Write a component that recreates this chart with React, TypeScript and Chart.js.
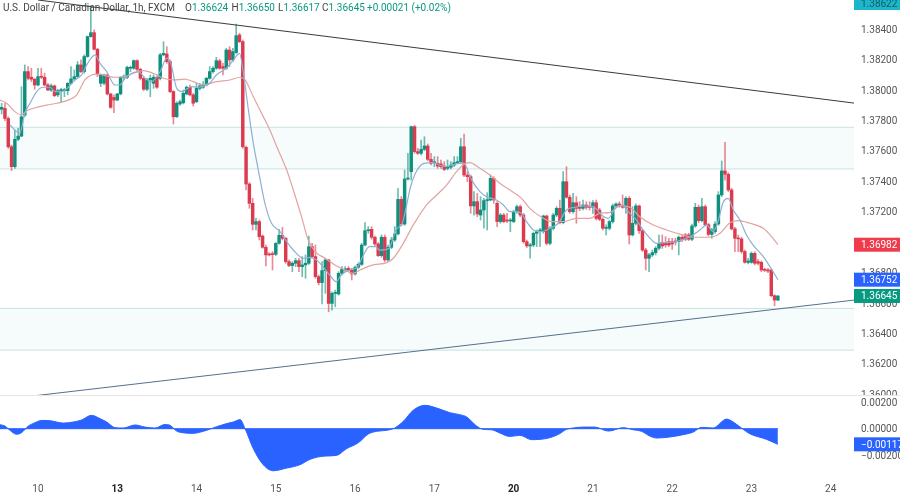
import { useEffect, useRef } from 'react';
import { Chart, registerables } from 'chart.js';

Chart.register(...registerables);

const opens = [
  1.37872,1.37878,1.37812,1.37626,1.37495,1.37675,1.37696,1.37834,1.38120,1.38083,
  1.38070,1.38032,1.38087,1.38083,1.38032,1.37999,1.38026,1.37967,1.37995,1.37995,
  1.37995,1.38043,1.38072,1.38087,1.38164,1.38120,1.38219,1.38350,1.38376,1.38267,
  1.38043,1.38043,1.38098,1.37973,1.37951,1.37933,1.37973,1.38083,1.38083,1.38142,
  1.38142,1.38192,1.38135,1.38076,1.38004,1.38065,1.38043,1.38083,1.38076,1.38230,
  1.38236,1.38186,1.37989,1.37823,1.37907,1.37915,1.37973,1.38017,1.37967,1.37922,
  1.38010,1.38017,1.38032,1.38076,1.38120,1.38142,1.38190,1.38153,1.38142,1.38262,
  1.38197,1.38245,1.38361,1.38317,1.37622,1.37381,1.37254,1.37116,1.37134,1.37039,
  1.36965,1.36921,1.36919,1.36919,1.36991,1.37044,1.37024,1.36871,1.36845,1.36860,
  1.36877,1.36838,1.36849,1.36860,1.36969,1.36904,1.36772,1.36733,1.36812,1.36882,
  1.36596,1.36662,1.36658,1.36794,1.36816,1.36827,1.36816,1.36790,1.36834,1.36853,
  1.36980,1.37074,1.37083,1.37031,1.36987,1.36910,1.37031,1.36882,1.36965,1.37013,
  1.37053,1.37280,1.37118,1.37414,1.37462,1.37758,1.37594,1.37583,1.37609,1.37631,
  1.37543,1.37521,1.37517,1.37513,1.37499,1.37484,1.37491,1.37506,1.37521,1.37528,
  1.37626,1.37440,1.37429,1.37237,1.37265,1.37177,1.37210,1.37272,1.37276,1.37418,
  1.37254,1.37134,1.37177,1.37144,1.37138,1.37134,1.37199,1.37232,1.37177,1.37002,
  1.36974,1.36980,1.37057,1.37068,1.37068,1.37171,1.36991,1.37090,1.37177,1.37221,
  1.37127,1.37396,1.37294,1.37199,1.37258,1.37228,1.37221,1.37243,1.37232,1.37228,
  1.37258,1.37210,1.37149,1.37090,1.37090,1.37134,1.37237,1.37250,1.37237,1.37228,
  1.37287,1.37046,1.37123,1.37237,1.37074,1.36947,1.36893,1.36915,1.36930,1.36959,
  1.36996,1.36991,1.37002,1.37002,1.37002,1.37002,1.37031,1.37046,1.37046,1.37018,
  1.37105,1.37228,1.37140,1.37232,1.37114,1.37050,1.37068,1.37118,1.37309,1.37467,
  1.37445,1.37342,1.37086,1.37024,1.37020,1.36937,1.36866,1.36866,1.36925,1.36871,
  1.36866,1.36816,1.36816,1.36816,1.36647,1.36618,
];
const closes = [
  1.37885,1.37812,1.37626,1.37495,1.37675,1.37696,1.37823,1.38120,1.38076,1.38070,
  1.38032,1.38087,1.38083,1.38032,1.37999,1.38026,1.37962,1.37995,1.37999,1.37999,
  1.38043,1.38072,1.38087,1.38164,1.38120,1.38219,1.38350,1.38376,1.38267,1.38104,
  1.38098,1.38098,1.37973,1.37885,1.37933,1.37973,1.38083,1.38087,1.38148,1.38146,
  1.38192,1.38135,1.38076,1.38004,1.38065,1.38076,1.38083,1.38017,1.38230,1.38240,
  1.38186,1.37989,1.37823,1.37912,1.37922,1.37977,1.38017,1.37967,1.37912,1.38010,
  1.38026,1.38032,1.38076,1.38120,1.38142,1.38192,1.38142,1.38142,1.38262,1.38197,
  1.38251,1.38356,1.38317,1.37626,1.37381,1.37254,1.37116,1.37134,1.37035,1.36965,
  1.36915,1.36915,1.36917,1.36991,1.37044,1.37024,1.36871,1.36845,1.36860,1.36877,
  1.36838,1.36849,1.36860,1.36969,1.36904,1.36772,1.36733,1.36812,1.36882,1.36596,
  1.36662,1.36666,1.36794,1.36820,1.36820,1.36816,1.36790,1.36834,1.36853,1.36980,
  1.37074,1.37079,1.37031,1.36987,1.36910,1.37031,1.36882,1.36965,1.37013,1.37053,
  1.37280,1.37118,1.37414,1.37418,1.37758,1.37594,1.37583,1.37609,1.37631,1.37543,
  1.37517,1.37523,1.37499,1.37495,1.37477,1.37495,1.37506,1.37521,1.37528,1.37626,
  1.37440,1.37429,1.37237,1.37265,1.37184,1.37210,1.37272,1.37276,1.37418,1.37276,
  1.37134,1.37177,1.37134,1.37138,1.37140,1.37199,1.37232,1.37177,1.37002,1.36974,
  1.36974,1.37057,1.37068,1.37079,1.37171,1.36991,1.37090,1.37177,1.37221,1.37127,
  1.37396,1.37294,1.37199,1.37258,1.37221,1.37221,1.37243,1.37228,1.37228,1.37258,
  1.37155,1.37149,1.37090,1.37090,1.37134,1.37237,1.37250,1.37237,1.37228,1.37287,
  1.37046,1.37123,1.37237,1.37074,1.36947,1.36893,1.36915,1.36930,1.36959,1.36991,
  1.36974,1.36980,1.36980,1.36987,1.37000,1.37031,1.37018,1.37018,1.37018,1.37105,
  1.37228,1.37140,1.37232,1.37114,1.37050,1.37079,1.37118,1.37309,1.37467,1.37445,
  1.37342,1.37086,1.37024,1.37020,1.36937,1.36866,1.36875,1.36925,1.36860,1.36860,
  1.36816,1.36814,1.36809,1.36647,1.36618,1.36645,
];
const highs = [
  1.37912,1.37912,1.37823,1.37637,1.37736,1.37747,1.38021,1.38164,1.38153,1.38142,
  1.38076,1.38142,1.38142,1.38109,1.38043,1.38039,1.38032,1.38004,1.38010,1.38010,
  1.38048,1.38153,1.38131,1.38186,1.38197,1.38230,1.38354,1.38547,1.38394,1.38273,
  1.38104,1.38104,1.38104,1.37977,1.37967,1.37977,1.38087,1.38098,1.38157,1.38157,
  1.38197,1.38197,1.38142,1.38087,1.38076,1.38098,1.38098,1.38091,1.38240,1.38317,
  1.38284,1.38197,1.37995,1.37922,1.37933,1.37999,1.38026,1.38032,1.37977,1.38043,
  1.38043,1.38054,1.38083,1.38153,1.38153,1.38214,1.38201,1.38174,1.38273,1.38284,
  1.38273,1.38433,1.38372,1.38328,1.37631,1.37390,1.37287,1.37155,1.37144,1.37046,
  1.36980,1.36930,1.36937,1.36996,1.37083,1.37096,1.37031,1.36882,1.36871,1.36893,
  1.36893,1.36904,1.36915,1.37039,1.36991,1.36980,1.36783,1.36871,1.36893,1.36886,
  1.36673,1.36684,1.36805,1.36838,1.36838,1.36838,1.36827,1.36842,1.36864,1.36991,
  1.37127,1.37101,1.37101,1.37039,1.36996,1.37046,1.37046,1.36980,1.37031,1.37101,
  1.37353,1.37298,1.37473,1.37583,1.37762,1.37767,1.37616,1.37670,1.37692,1.37644,
  1.37583,1.37561,1.37561,1.37539,1.37528,1.37539,1.37528,1.37561,1.37561,1.37681,
  1.37710,1.37462,1.37440,1.37331,1.37320,1.37298,1.37287,1.37324,1.37440,1.37429,
  1.37265,1.37188,1.37188,1.37188,1.37155,1.37210,1.37243,1.37243,1.37188,1.37013,
  1.36991,1.37066,1.37079,1.37090,1.37177,1.37177,1.37101,1.37188,1.37232,1.37276,
  1.37462,1.37495,1.37309,1.37320,1.37298,1.37265,1.37276,1.37265,1.37265,1.37272,
  1.37276,1.37221,1.37160,1.37112,1.37144,1.37250,1.37258,1.37265,1.37309,1.37298,
  1.37298,1.37232,1.37250,1.37243,1.37083,1.36958,1.36925,1.36947,1.36969,1.37046,
  1.37046,1.37035,1.37024,1.37024,1.37024,1.37039,1.37046,1.37057,1.37057,1.37118,
  1.37254,1.37243,1.37287,1.37243,1.37123,1.37090,1.37134,1.37331,1.37532,1.37655,
  1.37456,1.37353,1.37096,1.37046,1.37031,1.36947,1.36893,1.36934,1.36936,1.36886,
  1.36875,1.36827,1.36827,1.36820,1.36653,1.36647,
];
const lows = [
  1.37841,1.37797,1.37615,1.37469,1.37484,1.37666,1.37692,1.37823,1.38065,1.38054,
  1.38004,1.38026,1.38074,1.38026,1.37995,1.37989,1.37955,1.37955,1.37915,1.37955,
  1.37967,1.38039,1.38065,1.38083,1.38113,1.38109,1.38214,1.38346,1.38262,1.38087,
  1.38021,1.38032,1.37967,1.37878,1.37850,1.37929,1.37967,1.38065,1.38074,1.38120,
  1.38135,1.38126,1.38065,1.37995,1.37995,1.37955,1.38010,1.38010,1.38065,1.38223,
  1.38174,1.37982,1.37775,1.37819,1.37898,1.37907,1.37967,1.37960,1.37894,1.37915,
  1.37999,1.38010,1.38026,1.38070,1.38109,1.38135,1.38135,1.38098,1.38135,1.38153,
  1.38186,1.38240,1.38310,1.37615,1.37342,1.37221,1.37079,1.37079,1.37013,1.36958,
  1.36842,1.36908,1.36816,1.36910,1.36985,1.37013,1.36860,1.36838,1.36805,1.36838,
  1.36805,1.36772,1.36761,1.36853,1.36893,1.36761,1.36717,1.36592,1.36662,1.36541,
  1.36552,1.36574,1.36651,1.36783,1.36805,1.36805,1.36750,1.36781,1.36825,1.36845,
  1.36974,1.37057,1.37018,1.36974,1.36904,1.36899,1.36871,1.36871,1.36956,1.37002,
  1.37046,1.37105,1.37109,1.37407,1.37407,1.37583,1.37576,1.37572,1.37600,1.37534,
  1.37506,1.37495,1.37484,1.37484,1.37469,1.37473,1.37480,1.37495,1.37517,1.37517,
  1.37429,1.37396,1.37188,1.37177,1.37166,1.37144,1.37090,1.37079,1.37270,1.37254,
  1.37101,1.37123,1.37127,1.37127,1.37068,1.37127,1.37188,1.37166,1.36991,1.36965,
  1.36893,1.36969,1.36969,1.36969,1.37057,1.36980,1.36980,1.37079,1.37166,1.37118,
  1.37118,1.37287,1.37188,1.37188,1.37123,1.37205,1.37210,1.37214,1.37210,1.37188,
  1.37144,1.37140,1.37079,1.37046,1.37079,1.37123,1.37228,1.37228,1.37221,1.37188,
  1.36987,1.37039,1.37112,1.37057,1.36937,1.36816,1.36805,1.36904,1.36915,1.36947,
  1.36958,1.36965,1.36969,1.36951,1.36980,1.36915,1.37002,1.37009,1.37009,1.37009,
  1.37096,1.37127,1.37131,1.37105,1.37039,1.37024,1.37057,1.37109,1.37298,1.37407,
  1.37331,1.37079,1.36937,1.36937,1.36925,1.36860,1.36855,1.36860,1.36849,1.36849,
  1.36805,1.36805,1.36798,1.36640,1.36580,1.36614,
];

// fast average: bar position, price
const fastBars = [
  2.5,5.5,7,8.6,10.6,12.6,14.6,16.2,18.2,20.2,22.2,24.2,26,28.3,29.8,31.8,34.3,35.8,37.3,39.4,
  41.4,43.4,45.4,48,50,51.2,53,54.5,57.5,59,60.5,63,65,68,70.2,72,73.2,74.7,76.2,77.7,
  79.7,81.7,84.3,86.3,88.3,91.3,93.3,95.3,97.3,99.3,101.3,102.8,105.3,107.8,109.3,111.3,113.3,114.3,117.3,119.3,
  121.3,122.3,123.8,125.8,127.9,130.4,134.4,138.5,140,142,144.8,146.8,149.8,151.9,153.9,155.9,157.4,158.9,161,163.5,
  166,168.5,171,173.6,176.1,179.1,181.6,183.6,186.2,188.2,189.7,192.2,194.2,196.3,198.3,201.3,204.3,208.4,211.4,213.4,
  215.4,217,218.5,220,221.5,223.5,225.5,227.5,230.6,232.6,235,
];
const fastValues = [
  1.37769,1.37714,1.37846,1.37912,1.37989,1.38017,1.38017,1.37989,1.37989,1.38017,1.38065,1.38098,1.38174,1.38230,1.38174,1.38120,1.38032,1.38032,1.38076,1.38109,
  1.38120,1.38076,1.38054,1.38120,1.38208,1.38174,1.38010,1.37989,1.38021,1.38017,1.38021,1.38043,1.38098,1.38142,1.38197,1.38240,1.38109,1.37868,1.37648,1.37473,
  1.37254,1.37123,1.37068,1.37002,1.36947,1.36893,1.36899,1.36882,1.36838,1.36783,1.36739,1.36783,1.36816,1.36838,1.36904,1.36969,1.36969,1.36947,1.36958,1.37079,
  1.37123,1.37210,1.37363,1.37473,1.37517,1.37521,1.37495,1.37517,1.37517,1.37418,1.37331,1.37298,1.37276,1.37243,1.37199,1.37199,1.37188,1.37134,1.37079,1.37068,
  1.37090,1.37123,1.37210,1.37228,1.37237,1.37232,1.37177,1.37155,1.37232,1.37243,1.37199,1.37144,1.37079,1.37024,1.36991,1.36996,1.37002,1.37035,1.37079,1.37112,
  1.37068,1.37144,1.37265,1.37287,1.37210,1.37144,1.37046,1.36980,1.36904,1.36838,1.36752,
];
// slow average: bar position, price
const slowBars = [
  -0.5,1.5,4,6,7.6,10.6,13.6,16.7,19.7,22.7,25.2,27.2,29.3,31.8,34.3,37.3,39.9,42.9,46.4,49,
  52,55.5,58,61,65.1,69.1,72.2,73.7,76.2,79.2,81.2,83.3,86.3,88.3,90.8,92.8,94.9,97.9,100.9,103.9,
  106.4,108.5,112.5,116.6,118.6,121.6,124.6,128.6,131.7,134.7,137.7,139.7,141.7,144.8,147.8,150.9,153.9,157.4,159.9,163.5,
  166.5,170,174,178.1,181.1,184.2,187.2,190.2,193.2,197.3,201.3,205.3,209.4,214.4,217.5,220.5,223,226.5,230.6,233.1,235,
];
const slowValues = [
  1.37933,1.37912,1.37857,1.37835,1.37863,1.37885,1.37900,1.37912,1.37929,1.37966,1.38065,1.38098,1.38104,1.38091,1.38083,1.38087,1.38109,1.38126,1.38104,1.38076,
  1.38065,1.38070,1.38054,1.38032,1.38054,1.38065,1.38083,1.38065,1.37955,1.37824,1.37736,1.37626,1.37473,1.37342,1.37166,1.37013,1.36937,1.36893,1.36849,1.36816,
  1.36794,1.36816,1.36849,1.36864,1.36893,1.36991,1.37111,1.37243,1.37309,1.37374,1.37462,1.37506,1.37521,1.37484,1.37440,1.37385,1.37341,1.37287,1.37221,1.37162,
  1.37134,1.37134,1.37155,1.37155,1.37188,1.37195,1.37237,1.37228,1.37166,1.37111,1.37079,1.37052,1.37031,1.37031,1.37057,1.37127,1.37140,1.37123,1.37090,1.37035,1.36982,
];
// lower pane: bar position, value
const oscBars = [
  -0.5,1,2.5,4.5,6,8.1,10.1,12.1,14.6,18.7,21.7,24.2,27.2,29.8,31.8,34.3,36.8,40.4,43.4,46.4,
  49.5,51,53,55.5,58,61,65.1,68.1,70.1,72.2,73.7,76.2,79.2,82.2,86.3,90.3,93.3,97.9,101.4,104.4,
  108,111,113.5,116.6,119,121.6,124.6,128.2,131.7,135.7,138.7,140.8,143.8,145.8,148.3,150.8,153.8,156.9,160.4,162.9,
  165.9,168.9,171,173,176.1,179.6,183.7,188.2,191.2,193.7,196.2,198.3,202.3,206.3,209.4,211.9,215.4,219.5,221.5,224.5,
  226.5,231.6,235,
];
const oscValues = [
  0.0003,0.0002,-0.00012,-0.00042,-0.0003,0.0002,0.00045,0.00062,0.0006,0.00042,0.0005,0.00065,0.001,0.00075,0.0005,0.00008,0.00005,0.00028,0.00012,0.00005,
  0.00032,0.00025,-0.00018,-0.00032,-0.00035,-0.0002,0.00015,0.00038,0.0005,0.00068,0,-0.0015,-0.0027,-0.00315,-0.00295,-0.0027,-0.0023,-0.00205,-0.002,-0.0015,
  -0.00105,-0.0004,-0.0002,-0.00012,0.00005,0.00055,0.00138,0.00175,0.00155,0.0012,0.00105,0.00088,0.0002,-0.00005,-0.00008,-0.00032,-0.00058,-0.0005,-0.00082,-0.0008,
  -0.00068,-0.00038,-0.00005,0.00005,0.00012,0.00012,-0.00018,0.00008,-0.00008,-0.0002,-0.00055,-0.0007,-0.00062,-0.00045,-0.00025,0.0001,0.00005,0.00072,0.0005,-0.00005,
  -0.00038,-0.0008,-0.00117,
];

const upperBand = [1.37754, 1.3748];
const lowerBand = [1.36563, 1.36289];
const resistanceBars = [11, 258.05];
const resistanceValues = [1.385907, 1.37913];
const supportBars = [9.2, 258.05];
const supportValues = [1.35987, 1.36618];

const priceTicks = [1.36, 1.362, 1.364, 1.366, 1.368, 1.37, 1.372, 1.374, 1.376, 1.378, 1.38, 1.382, 1.384];
const oscTicks = [-0.002, 0, 0.002];
const dayBars = [11, 35, 59, 83, 107, 131, 155, 179, 203, 227, 251];
const dayLabels = ['10', '13', '14', '15', '16', '17', '20', '21', '22', '23', '24'];
const boldDays = ['13', '20'];

const FIRST = -0.5;
const LAST = 258.05;
const UP = '#0f8f7d';
const DOWN = '#dc3a4e';
const FONT = 'Roboto, sans-serif';

const pairs = (xs: number[], ys: number[]) => xs.map((x, i) => ({ x, y: ys[i] }));
const flat = (y: number) => [{ x: FIRST, y }, { x: LAST, y }];

const thin = (color: string, order: number, width = 1) => ({
  type: 'line' as const,
  borderColor: color,
  borderWidth: width,
  pointRadius: 0,
  order,
});

// axis boxes keep their exact size, no room reserved for edge labels
const fixX = (s: any) => {
  s.height = 18;
  s.paddingLeft = s.paddingRight = s.paddingTop = s.paddingBottom = 0;
};
const fixY = (s: any) => {
  s.width = 46;
  s.paddingLeft = s.paddingRight = s.paddingTop = s.paddingBottom = 0;
};

const overlay = {
  id: 'overlay',
  afterDatasetsDraw(chart: any) {
    // the price scale's last label is cut by the lower pane
    const { ctx, scales } = chart;
    ctx.save();
    ctx.fillStyle = '#fff';
    ctx.fillRect(854, scales.y.bottom + 1, 46, 12);
    ctx.restore();
  },
  afterDraw(chart: any) {
    const { ctx, scales } = chart;
    const tags = [
      { y: Math.max(scales.y.getPixelForValue(1.38622), 3), bg: '#1cb5c9', fg: '#0e5d68', text: '1.38622' },
      { y: scales.y.getPixelForValue(1.36982), bg: '#ef3b4c', fg: '#fff', text: '1.36982' },
      { y: scales.y.getPixelForValue(1.36752), bg: '#2962ff', fg: '#fff', text: '1.36752' },
      { y: scales.y.getPixelForValue(1.36645), bg: '#089981', fg: '#fff', text: '1.36645' },
      { y: scales.osc.getPixelForValue(-0.00117), bg: '#2962ff', fg: '#fff', text: '\u22120.00117' },
    ];
    ctx.save();
    ctx.strokeStyle = '#e6e6e6';
    ctx.beginPath();
    ctx.moveTo(0, scales.y.bottom + 0.5);
    ctx.lineTo(900, scales.y.bottom + 0.5);
    ctx.stroke();

    ctx.font = `10px ${FONT}`;
    ctx.textBaseline = 'middle';
    tags.forEach((t) => {
      ctx.fillStyle = t.bg;
      ctx.fillRect(854, t.y - 7, 46, 14);
      ctx.fillStyle = t.fg;
      ctx.fillText(t.text, 861, t.y + 1);
    });

    ctx.fillStyle = '#444';
    ctx.fillText('U.S. Dollar / Canadian Dollar, 1h, FXCM', 3, 8);
    const values = [
      { x: 185, label: 'O', value: '1.36624' },
      { x: 231.5, label: 'H', value: '1.36650' },
      { x: 278, label: 'L', value: '1.36617' },
      { x: 322, label: 'C', value: '1.36645' },
    ];
    values.forEach((v) => {
      ctx.fillStyle = '#444';
      ctx.fillText(v.label, v.x, 8);
      ctx.fillStyle = '#089981';
      ctx.fillText(v.value, v.x + ctx.measureText(v.label).width, 8);
    });
    ctx.fillText('+0.00021 (+0.02%)', 367, 8);
    ctx.restore();
  },
};

export default function App() {
  const canvasRef = useRef<HTMLCanvasElement>(null);

  useEffect(() => {
    if (!canvasRef.current) return;
    const colors = closes.map((c, i) => (c >= opens[i] ? UP : DOWN));
    const wickColors = closes.map((c, i) => (c >= opens[i] ? 'rgba(15,143,125,0.6)' : 'rgba(220,58,78,0.6)'));

    const chart = new Chart(canvasRef.current, {
      type: 'bar',
      data: {
        datasets: [
          {
            type: 'bar',
            data: lows.map((l, i) => ({ x: i, y: [l, highs[i]] })) as any,
            backgroundColor: wickColors,
            barThickness: 1,
            grouped: false,
            order: 4,
          },
          {
            type: 'bar',
            data: opens.map((o, i) => ({ x: i, y: [o, closes[i]] })) as any,
            backgroundColor: colors,
            barThickness: 2.8,
            minBarLength: 1,
            grouped: false,
            order: 3,
          },
          { ...thin('#8fb0d2', 2, 1.2), data: pairs(fastBars, fastValues), cubicInterpolationMode: 'monotone' },
          { ...thin('#e2a3a3', 2, 1.2), data: pairs(slowBars, slowValues), cubicInterpolationMode: 'monotone' },
          { ...thin('#3a3a3a', 1), data: pairs(resistanceBars, resistanceValues) },
          { ...thin('#56708c', 1), data: pairs(supportBars, supportValues) },
          { ...thin('#c9e3e3', 6), data: flat(upperBand[0]) },
          { ...thin('#c9e3e3', 6), data: flat(upperBand[1]), fill: '-1', backgroundColor: '#f6fbfc' },
          { ...thin('#c9e3e3', 6), data: flat(lowerBand[0]) },
          { ...thin('#c9e3e3', 6), data: flat(lowerBand[1]), fill: '-1', backgroundColor: '#f6fbfc' },
          {
            ...thin('#2962ff', 1),
            yAxisID: 'osc',
            data: pairs(oscBars, oscValues),
            cubicInterpolationMode: 'monotone',
            fill: { value: 0 },
            backgroundColor: '#2962ff',
          },
          { ...thin('#2962ff', 1), yAxisID: 'osc', data: [{ x: FIRST, y: 0 }, { x: 235, y: 0 }] },
        ] as any,
      },
      options: {
        animation: false,
        responsive: false,
        events: [],
        layout: { autoPadding: false },
        plugins: { legend: { display: false }, tooltip: { enabled: false } },
        scales: {
          x: {
            type: 'linear',
            offset: false,
            min: FIRST,
            max: LAST,
            grid: { display: false, drawTicks: false },
            border: { display: false },
            afterFit: fixX,
            afterBuildTicks: (s: any) => { s.ticks = dayBars.map((value) => ({ value })); },
            ticks: {
              autoSkip: false,
              maxRotation: 0,
              padding: 6,
              callback: (v: any) => dayLabels[dayBars.indexOf(Number(v))],
              font: (c: any) => ({
                family: FONT,
                size: 10,
                weight: boldDays.includes(dayLabels[dayBars.indexOf(c.tick?.value)]) ? 'bold' : 'normal',
              }),
              color: (c: any) => (boldDays.includes(dayLabels[dayBars.indexOf(c.tick?.value)]) ? '#222' : '#555'),
            },
          },
          y: {
            type: 'linear',
            position: 'right',
            stack: 'panes',
            stackWeight: 395,
            min: 1.35994,
            max: 1.385907,
            grid: { display: false, drawTicks: false },
            border: { display: false },
            afterFit: fixY,
            afterBuildTicks: (s: any) => { s.ticks = priceTicks.map((value) => ({ value })); },
            ticks: {
              padding: 7,
              labelOffset: 1.2,
              autoSkip: false,
              color: '#555',
              font: { family: FONT, size: 10 },
              callback: (v: any) => Number(v).toFixed(5),
            },
          },
          osc: {
            type: 'linear',
            position: 'right',
            stack: 'panes',
            stackWeight: 82,
            min: -0.003618,
            max: 0.002524,
            grid: { display: false, drawTicks: false },
            border: { display: false },
            afterFit: fixY,
            afterBuildTicks: (s: any) => { s.ticks = oscTicks.map((value) => ({ value })); },
            ticks: {
              padding: 7,
              labelOffset: 1.2,
              autoSkip: false,
              z: 1,
              color: '#555',
              font: { family: FONT, size: 10 },
              callback: (v: any) => (Number(v) < 0 ? '\u2212' : '') + Math.abs(Number(v)).toFixed(5),
            },
          },
        },
      },
      plugins: [overlay],
    } as any);

    return () => chart.destroy();
  }, []);

  return (
    <div style={{ position: 'absolute', left: 0, top: 0, width: 900, height: 495, background: '#fff' }}>
      <canvas ref={canvasRef} width={900} height={495} />
    </div>
  );
}
